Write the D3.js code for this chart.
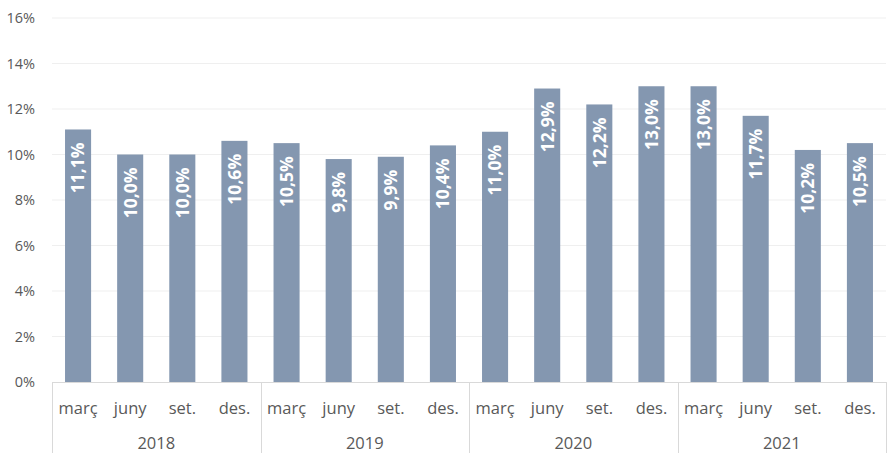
<!DOCTYPE html>
<html>
<head>
<meta charset="utf-8">
<script src="https://cdn.jsdelivr.net/npm/d3@7"></script>
<style>
  body { margin: 0; background: #fff; }
  text { font-family: "Open Sans", "Liberation Sans", sans-serif; }
</style>
</head>
<body>
<svg id="chart"></svg>
<script>
var years = ["2018", "2019", "2020", "2021"];
var months = ["març", "juny", "set.", "des."];
var values = [11.1, 10.0, 10.0, 10.6, 10.5, 9.8, 9.9, 10.4, 11.0, 12.9, 12.2, 13.0, 13.0, 11.7, 10.2, 10.5];
var yTicks = [0, 2, 4, 6, 8, 10, 12, 14, 16];

var data = [];
years.forEach(function(yr, i) {
    months.forEach(function(m, j) {
        data.push({ key: yr + "-" + m, year: yr, month: m, value: values[i * 4 + j] });
    });
});

var margin = {top: 18, right: 2, bottom: 71, left: 52},
    width = 888 - margin.left - margin.right,
    height = 453 - margin.top - margin.bottom;

var svg = d3.select("#chart")
    .attr("width", width + margin.left + margin.right)
    .attr("height", height + margin.top + margin.bottom)
    .append("g")
    .attr("transform", "translate(" + margin.left + "," + margin.top + ")");

var x = d3.scaleBand()
    .range([0, width])
    .domain(data.map(function(d) { return d.key; }))
    .paddingInner(0.5)
    .paddingOuter(0.25);

var xYear = d3.scaleBand()
    .range([0, width])
    .domain(years);

var y = d3.scaleLinear()
    .domain([0, 16])
    .range([height, 0]);

// gridlines
svg.selectAll(".grid")
    .data(yTicks.filter(function(t) { return t > 0; }))
    .enter()
    .append("line")
    .attr("x1", 0)
    .attr("x2", width)
    .attr("y1", function(d) { return y(d); })
    .attr("y2", function(d) { return y(d); })
    .attr("stroke", "#efefef")
    .attr("stroke-width", 1);

// y axis labels
svg.selectAll(".ylab")
    .data(yTicks)
    .enter()
    .append("text")
    .attr("x", -17)
    .attr("y", function(d) { return y(d); })
    .attr("dy", "0.35em")
    .attr("text-anchor", "end")
    .attr("font-size", "14.5px")
    .attr("fill", "#595959")
    .text(function(d) { return d + "%"; });

// bars
svg.selectAll(".bar")
    .data(data)
    .enter()
    .append("rect")
    .attr("class", "bar")
    .attr("x", function(d) { return x(d.key); })
    .attr("y", function(d) { return y(d.value); })
    .attr("width", x.bandwidth())
    .attr("height", function(d) { return height - y(d.value); })
    .attr("fill", "#8497b0");

// value labels, rotated inside bars
svg.selectAll(".bar-label")
    .data(data)
    .enter()
    .append("text")
    .attr("transform", function(d) {
        return "translate(" + (x(d.key) + x.bandwidth() / 2) + "," + (y(d.value) + 13) + ") rotate(-90)";
    })
    .attr("dy", "0.36em")
    .attr("text-anchor", "end")
    .attr("font-size", "17.5px")
    .attr("font-weight", "bold")
    .attr("fill", "white")
    .text(function(d) { return d.value.toFixed(1).replace(".", ",") + "%"; });

// x axis baseline and group separators
var axisColor = "#d9d9d9";
svg.append("line")
    .attr("x1", 0).attr("x2", width)
    .attr("y1", height + 0.5).attr("y2", height + 0.5)
    .attr("stroke", axisColor);

var seps = years.map(function(yr) { return xYear(yr); }).concat([width]);
svg.selectAll(".sep")
    .data(seps)
    .enter()
    .append("line")
    .attr("x1", function(d) { return Math.round(d) + 0.5; })
    .attr("x2", function(d) { return Math.round(d) + 0.5; })
    .attr("y1", height)
    .attr("y2", height + margin.bottom)
    .attr("stroke", axisColor);

// month labels
svg.selectAll(".mlab")
    .data(data)
    .enter()
    .append("text")
    .attr("x", function(d) { return x(d.key) + x.bandwidth() / 2; })
    .attr("y", height + 26)
    .attr("dy", "0.35em")
    .attr("text-anchor", "middle")
    .attr("font-size", "16.5px")
    .attr("fill", "#595959")
    .text(function(d) { return d.month; });

// year labels
svg.selectAll(".ylabel")
    .data(years)
    .enter()
    .append("text")
    .attr("x", function(d) { return xYear(d) + xYear.bandwidth() / 2; })
    .attr("y", height + 61)
    .attr("dy", "0.35em")
    .attr("text-anchor", "middle")
    .attr("font-size", "16.5px")
    .attr("fill", "#595959")
    .text(function(d) { return d; });
</script>
</body>
</html>
